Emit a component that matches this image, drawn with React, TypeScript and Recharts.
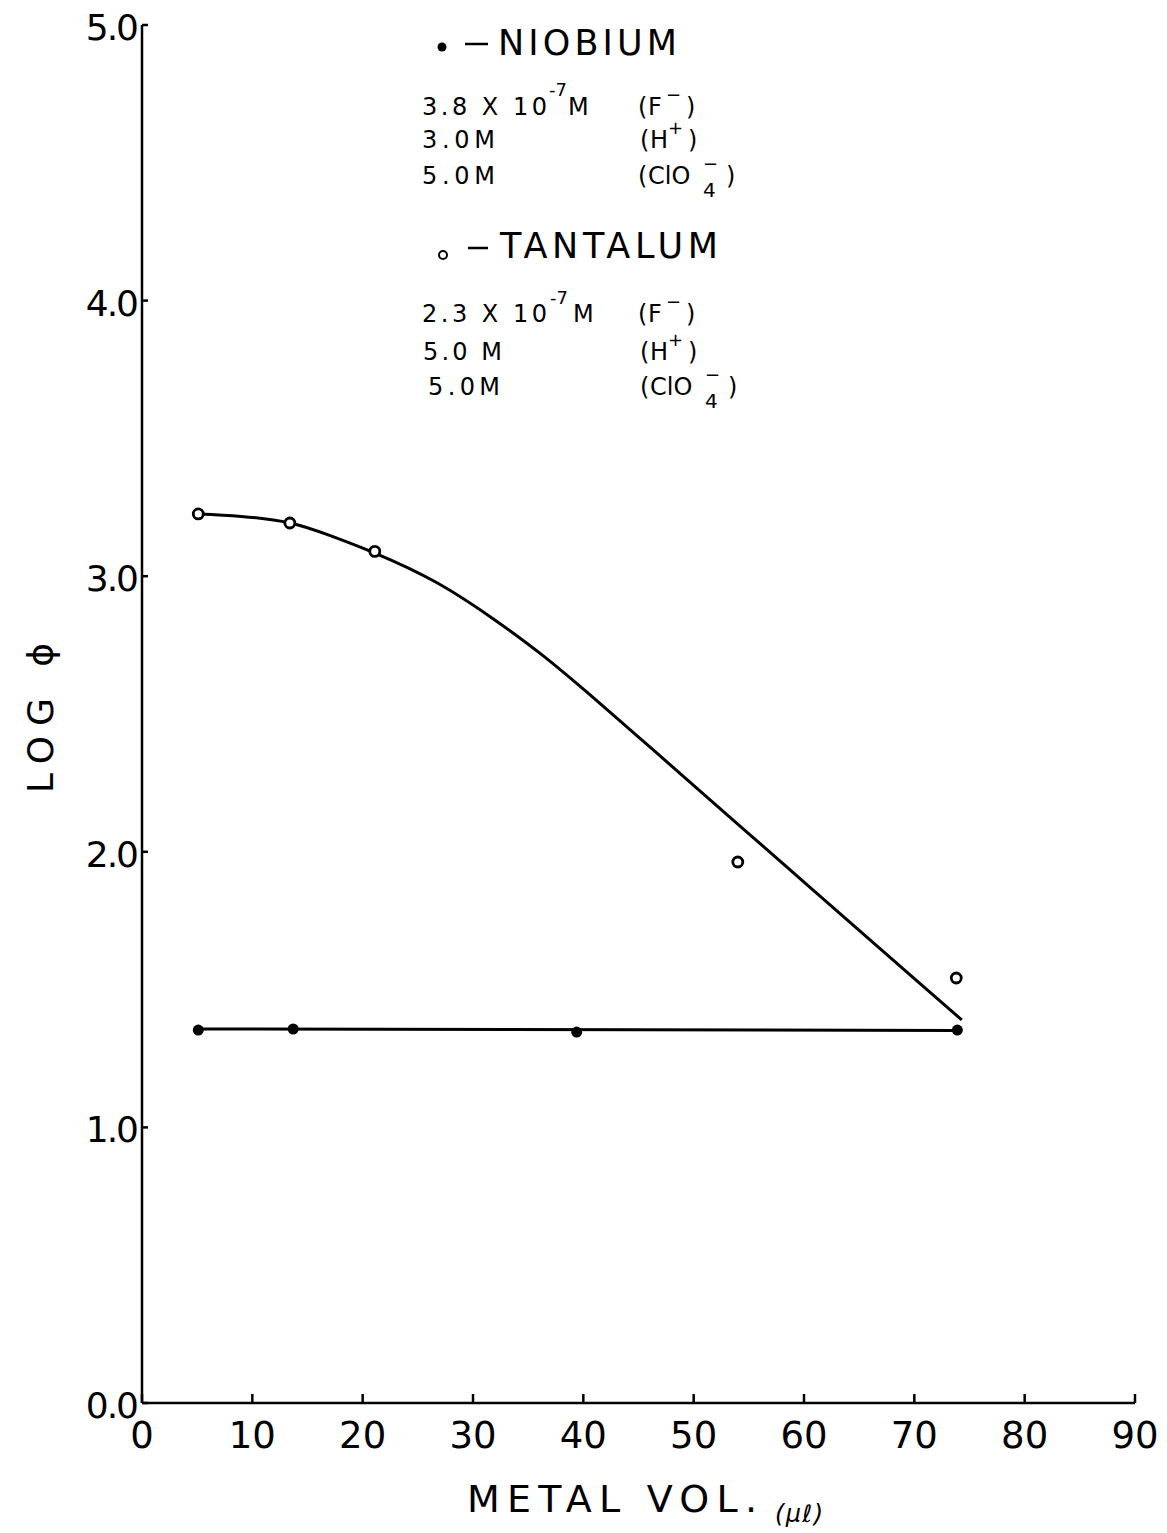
import { ComposedChart, Line, Scatter, XAxis, YAxis } from 'recharts';

// measured points
const tantalumVol = [5.1, 13.4, 21.1, 54.0, 73.8];
const tantalumLog = [3.226, 3.193, 3.09, 1.963, 1.542];
const niobiumVol = [5.1, 13.7, 39.4, 73.9];
const niobiumLog = [1.353, 1.357, 1.346, 1.353];

// hand-drawn fitted curves
const tantalumFitVol = [5.1, 9, 13.4, 17, 21.1, 26.7, 32.2, 36.4, 40.3, 44.9, 49.4, 54.9, 60, 65, 70, 74.3];
const tantalumFitLog = [3.226, 3.217, 3.193, 3.148, 3.084, 2.977, 2.835, 2.71, 2.58, 2.42, 2.262, 2.069, 1.89, 1.715, 1.54, 1.39];
const niobiumFitVol = [5.1, 73.9];
const niobiumFitLog = [1.357, 1.352];

const xTicks = [0, 10, 20, 30, 40, 50, 60, 70, 80, 90];
const yTicks = [0, 1, 2, 3, 4, 5];

const zip = (xs: number[], ys: number[]) => xs.map((x, i) => ({ x, y: ys[i] }));

const FONT = '"DejaVu Sans", sans-serif';
const W = 1167;
const H = 1533;
const AXIS_Y = 1403;
const AXIS_X = 142;

const XTick = ({ x, payload }: any) => (
    <g>
        <line x1={x} y1={AXIS_Y} x2={x} y2={AXIS_Y - 9} stroke="#000" strokeWidth={2.5} />
        <text x={x} y={1448} textAnchor="middle" fontSize={37} fontFamily={FONT} fill="#000">
            {payload.value}
        </text>
    </g>
);

const YTick = ({ y, payload }: any) => (
    <g>
        <line x1={AXIS_X} y1={y} x2={AXIS_X + 6} y2={y} stroke="#000" strokeWidth={2.5} />
        <text x={137} y={y + 15} textAnchor="end" fontSize={36} fontFamily={FONT} fill="#000" letterSpacing={-2}>
            {Number(payload.value).toFixed(1)}
        </text>
    </g>
);

const openDot = (p: any) => (
    <circle cx={p.cx} cy={p.cy} r={5} fill="#fff" stroke="#000" strokeWidth={2.8} />
);
const filledDot = (p: any) => <circle cx={p.cx} cy={p.cy} r={5.5} fill="#000" />;

// fixed-width text run
const T = ({ x, y, w, size, children, italic }: any) => (
    <text
        x={x}
        y={y}
        fontSize={size}
        fontFamily={FONT}
        fontStyle={italic ? 'italic' : 'normal'}
        textLength={w}
        lengthAdjust="spacing"
        fill="#000"
    >
        {children}
    </text>
);

const Ion = ({ x, y, base, sup, sub }: any) => {
    const long = base.length > 1;
    return (
        <g>
            <T x={x} y={y} size={24}>(</T>
            <T x={x + 10} y={y} size={24}>{base}</T>
            {sub && <T x={x + 65} y={y + 13} size={20}>{sub}</T>}
            <T x={x + (long ? 65 : 28)} y={y - 14} size={18}>{sup}</T>
            <T x={x + (long ? 88 : 48)} y={y} size={24}>)</T>
        </g>
    );
};

const Annotations = () => (
    <svg width={W} height={H} style={{ position: 'absolute', left: 0, top: 0, pointerEvents: 'none' }}>
        {/* niobium block */}
        <circle cx={442} cy={47} r={4.5} fill="#000" />
        <line x1={465} y1={44} x2={488} y2={44} stroke="#000" strokeWidth={2.5} />
        <T x={498} y={55} w={179} size={35}>NIOBIUM</T>
        <T x={422} y={115} w={125} size={24}>3.8 X 10</T>
        <T x={549} y={96} size={18}>-7</T>
        <T x={568} y={115} size={24}>M</T>
        <Ion x={638} y={115} base="F" sup="−" />
        <T x={422} y={148} w={73} size={24}>3.0M</T>
        <Ion x={640} y={148} base="H" sup="+" />
        <T x={422} y={184} w={73} size={24}>5.0M</T>
        <Ion x={638} y={184} base="ClO" sup="−" sub="4" />

        {/* tantalum block */}
        <circle cx={443} cy={255} r={4} fill="#fff" stroke="#000" strokeWidth={2} />
        <line x1={468} y1={248} x2={488} y2={248} stroke="#000" strokeWidth={2.5} />
        <T x={500} y={258} w={218} size={35}>TANTALUM</T>
        <T x={422} y={322} w={125} size={24}>2.3 X 10</T>
        <T x={550} y={304} size={18}>-7</T>
        <T x={573} y={322} size={24}>M</T>
        <Ion x={638} y={322} base="F" sup="−" />
        <T x={423} y={360} w={79} size={24}>5.0 M</T>
        <Ion x={640} y={360} base="H" sup="+" />
        <T x={428} y={395} w={72} size={24}>5.0M</T>
        <Ion x={640} y={395} base="ClO" sup="−" sub="4" />

        {/* axis titles */}
        <T x={467} y={1512} w={290} size={38}>METAL VOL.</T>
        <T x={775} y={1522} w={48} size={24} italic>(μℓ)</T>
        <text
            x={53}
            y={718}
            transform="rotate(-90 53 718)"
            textAnchor="middle"
            fontSize={36}
            fontFamily={FONT}
            textLength={150}
            lengthAdjust="spacing"
            fill="#000"
        >
            LOG ϕ
        </text>
    </svg>
);

export default function App() {
    return (
        <div style={{ position: 'absolute', left: 0, top: 0, width: W, height: H, background: '#fff', overflow: 'hidden' }}>
            <ComposedChart width={W} height={H} margin={{ top: 25, right: 32, bottom: 0, left: 0 }}>
                <XAxis
                    type="number"
                    dataKey="x"
                    domain={[0, 90]}
                    ticks={xTicks}
                    height={130}
                    axisLine={{ stroke: '#000', strokeWidth: 2.5 }}
                    tickLine={false}
                    tickSize={0}
                    tickMargin={0}
                    tick={<XTick />}
                    interval={0}
                />
                <YAxis
                    type="number"
                    dataKey="y"
                    domain={[0, 5]}
                    ticks={yTicks}
                    width={142}
                    axisLine={{ stroke: '#000', strokeWidth: 2.5 }}
                    tickLine={false}
                    tickSize={0}
                    tickMargin={0}
                    tick={<YTick />}
                    interval={0}
                />
                <Line
                    data={zip(tantalumFitVol, tantalumFitLog)}
                    dataKey="y"
                    type="natural"
                    stroke="#000"
                    strokeWidth={3}
                    dot={false}
                    activeDot={false}
                    isAnimationActive={false}
                />
                <Line
                    data={zip(niobiumFitVol, niobiumFitLog)}
                    dataKey="y"
                    type="linear"
                    stroke="#000"
                    strokeWidth={3}
                    dot={false}
                    activeDot={false}
                    isAnimationActive={false}
                />
                <Scatter data={zip(tantalumVol, tantalumLog)} dataKey="y" shape={openDot} isAnimationActive={false} />
                <Scatter data={zip(niobiumVol, niobiumLog)} dataKey="y" shape={filledDot} isAnimationActive={false} />
            </ComposedChart>
            <Annotations />
        </div>
    );
}
